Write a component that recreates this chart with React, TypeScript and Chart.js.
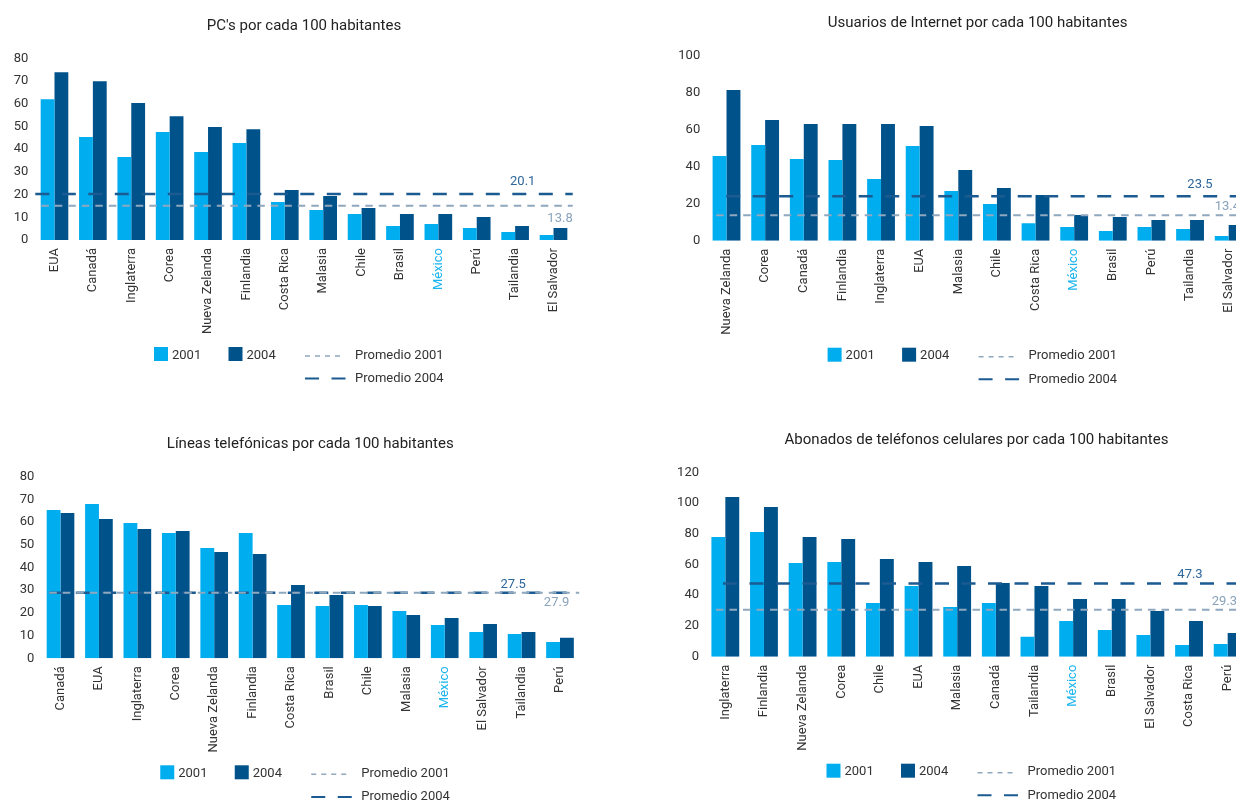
import React, { useEffect, useRef } from "react";
import { Chart, registerables } from "chart.js";

Chart.register(...registerables);

// ---------------- Data ----------------
const legendLabels = ["2001", "2004", "Promedio 2001", "Promedio 2004"];

const pcTitle = "PC's por cada 100 habitantes";
const pcCategories = ["EUA", "Canadá", "Inglaterra", "Corea", "Nueva Zelanda", "Finlandia", "Costa Rica", "Malasia", "Chile", "Brasil", "México", "Perú", "Tailandia", "El Salvador"];
const pc2001 = [62.0, 45.3, 36.5, 47.5, 38.7, 42.7, 16.7, 13.2, 11.4, 6.2, 7.0, 5.3, 3.5, 2.2];
const pc2004 = [73.9, 69.9, 60.3, 54.5, 49.7, 48.8, 22.0, 19.4, 14.1, 11.4, 11.4, 10.1, 6.2, 5.3];
const pcAverages = [15.1, 20.2]; // [2001, 2004] as drawn
const pcAverageLabels = ["13.8", "20.1"];
const pcTicks = [0, 10, 20, 30, 40, 50, 60, 70, 80];

const netTitle = "Usuarios de Internet por cada 100 habitantes";
const netCategories = ["Nueva Zelanda", "Corea", "Canadá", "Finlandia", "Inglaterra", "EUA", "Malasia", "Chile", "Costa Rica", "México", "Brasil", "Perú", "Tailandia", "El Salvador"];
const net2001 = [45.8, 51.7, 44.1, 43.6, 33.3, 51.2, 26.8, 19.8, 9.5, 7.4, 5.2, 7.4, 6.3, 2.5];
const net2004 = [81.4, 65.2, 63.1, 63.1, 63.1, 62.0, 38.2, 28.5, 24.7, 13.9, 12.8, 11.2, 11.2, 8.5];
const netAverages = [13.7, 24.0];
const netAverageLabels = ["13.4", "23.5"];
const netTicks = [0, 20, 40, 60, 80, 100];

const telTitle = "Líneas telefónicas por cada 100 habitantes";
const telCategories = ["Canadá", "EUA", "Inglaterra", "Corea", "Nueva Zelanda", "Finlandia", "Costa Rica", "Brasil", "Chile", "Malasia", "México", "El Salvador", "Tailandia", "Perú"];
const tel2001 = [65.3, 68.0, 59.6, 55.2, 48.6, 55.2, 23.5, 23.0, 23.5, 20.8, 14.7, 11.6, 10.7, 7.2];
const tel2004 = [64.0, 61.4, 57.0, 56.1, 46.8, 45.9, 32.3, 27.9, 23.0, 19.1, 17.8, 15.1, 11.6, 9.0];
const telAverages = [28.9, 28.9];
const telAverageLabels = ["27.9", "27.5"];
const telTicks = [0, 10, 20, 30, 40, 50, 60, 70, 80];

const celTitle = "Abonados de teléfonos celulares por cada 100 habitantes";
const celCategories = ["Inglaterra", "Finlandia", "Nueva Zelanda", "Corea", "Chile", "EUA", "Malasia", "Canadá", "Tailandia", "México", "Brasil", "El Salvador", "Costa Rica", "Perú"];
const cel2001 = [77.9, 81.2, 61.0, 61.6, 34.9, 46.0, 32.3, 34.9, 13.0, 23.2, 17.4, 14.1, 7.6, 8.2];
const cel2004 = [103.9, 97.4, 77.9, 76.6, 63.6, 61.6, 59.0, 48.0, 46.0, 37.5, 37.5, 29.7, 23.2, 15.4];
const celAverages = [30.6, 47.7];
const celAverageLabels = ["29.3", "47.3"];
const celTicks = [0, 20, 40, 60, 80, 100, 120];

// ---------------- Styles ----------------
const FONT = "Roboto, 'DejaVu Sans', sans-serif";
const C2001 = "#00adef";
const C2004 = "#00528b";
const CAVG01 = "#8fa8be";
const CAVG04 = "#1b5b91";
const LAB01 = "#8aa3bb";
const LAB04 = "#2d679c";
const TEXT = "#333333";
const TITLE = "#222222";
const MEXICO = "#1ab4ee";
const XH = 120;

type Panel = {
  title: string;
  categories: string[];
  v2001: number[];
  v2004: number[];
  avg: number[];
  avgLabels: string[];
  ticks: number[];
  box: { x: number; y: number; w: number; h: number };
  area: { l: number; t: number; r: number; b: number };
  lineStart: number[];
  lab04: { dx: number; dy: number };
  lab01: { dx: number; dy: number };
};

const panels: Panel[] = [
  {
    title: pcTitle, categories: pcCategories, v2001: pc2001, v2004: pc2004,
    avg: pcAverages, avgLabels: pcAverageLabels, ticks: pcTicks,
    box: { x: 0, y: 0, w: 618, h: 400 },
    area: { l: 35.3, t: 58.3, r: 572.7, b: 240 },
    lineStart: [6, 0], lab04: { dx: -50, dy: -12.5 }, lab01: { dx: 0, dy: 13 },
  },
  {
    title: netTitle, categories: netCategories, v2001: net2001, v2004: net2004,
    avg: netAverages, avgLabels: netAverageLabels, ticks: netTicks,
    box: { x: 618, y: 0, w: 640, h: 400 },
    area: { l: 89.2, t: 55.7, r: 630, b: 240.7 },
    lineStart: [9, 19], lab04: { dx: -48, dy: -12 }, lab01: { dx: -8, dy: -9 },
  },
  {
    title: telTitle, categories: telCategories, v2001: tel2001, v2004: tel2004,
    avg: telAverages, avgLabels: telAverageLabels, ticks: telTicks,
    box: { x: 0, y: 400, w: 618, h: 401 },
    area: { l: 41.3, t: 76.7, r: 579.2, b: 258.3 },
    lineStart: [8, 8], lab04: { dx: -66, dy: -7.5 }, lab01: { dx: -10, dy: 10.5 },
  },
  {
    title: celTitle, categories: celCategories, v2001: cel2001, v2004: cel2004,
    avg: celAverages, avgLabels: celAverageLabels, ticks: celTicks,
    box: { x: 618, y: 400, w: 640, h: 401 },
    area: { l: 88, t: 72.3, r: 629, b: 256.7 },
    lineStart: [10, 17], lab04: { dx: -57, dy: -9 }, lab01: { dx: -10, dy: -8 },
  },
];

function ChartPanel({ p }: { p: Panel }) {
  const ref = useRef<HTMLCanvasElement>(null);

  useEffect(() => {
    const canvas = ref.current!;
    const overlay = {
      id: "overlay",
      afterDatasetsDraw(chart: any) {
        const { ctx, chartArea: a } = chart;
        const ys = chart.scales.y;
        const y01 = ys.getPixelForValue(p.avg[0]);
        const y04 = ys.getPixelForValue(p.avg[1]);
        ctx.save();
        ctx.lineCap = "butt";
        ctx.setLineDash([14, 12.5]);
        ctx.lineWidth = 2.5;
        ctx.strokeStyle = CAVG04;
        ctx.beginPath();
        ctx.moveTo(a.left + p.lineStart[1], y04);
        ctx.lineTo(a.right, y04);
        ctx.stroke();

        ctx.setLineDash([7.5, 6]);
        ctx.lineWidth = 2;
        ctx.strokeStyle = CAVG01;
        ctx.beginPath();
        ctx.moveTo(a.left + p.lineStart[0], y01);
        ctx.lineTo(a.right, y01);
        ctx.stroke();

        ctx.setLineDash([]);
        ctx.font = `13px ${FONT}`;
        ctx.textBaseline = "middle";
        ctx.fillStyle = LAB04;
        ctx.textAlign = "center";
        ctx.fillText(p.avgLabels[1], a.right + p.lab04.dx, y04 + p.lab04.dy);
        ctx.fillStyle = LAB01;
        ctx.textAlign = "right";
        ctx.fillText(p.avgLabels[0], a.right + p.lab01.dx, y01 + p.lab01.dy);
        ctx.restore();
      },
      afterDraw(chart: any) {
        const { ctx, chartArea: a } = chart;
        const cx = (a.left + a.right) / 2;
        ctx.save();
        ctx.fillStyle = TITLE;
        ctx.font = `15px ${FONT}`;
        ctx.textAlign = "center";
        ctx.textBaseline = "middle";
        ctx.fillText(p.title, cx, a.top - 32);

        const x0 = cx - 150;
        const r1 = a.bottom + 114;
        const r2 = r1 + 24.6;
        ctx.font = `13px ${FONT}`;
        ctx.textAlign = "left";
        ctx.fillStyle = C2001;
        ctx.fillRect(x0, r1 - 7, 14, 14);
        ctx.fillStyle = TEXT;
        ctx.fillText(legendLabels[0], x0 + 18, r1 + 1.5);
        ctx.fillStyle = C2004;
        ctx.fillRect(x0 + 74.5, r1 - 7, 14, 14);
        ctx.fillStyle = TEXT;
        ctx.fillText(legendLabels[1], x0 + 92.5, r1 + 1.5);

        ctx.strokeStyle = CAVG01;
        ctx.lineWidth = 1.5;
        ctx.setLineDash([5, 5]);
        ctx.beginPath();
        ctx.moveTo(x0 + 151, r1 + 2);
        ctx.lineTo(x0 + 188, r1 + 2);
        ctx.stroke();
        ctx.fillText(legendLabels[2], x0 + 201, r1 + 1.5);

        ctx.strokeStyle = CAVG04;
        ctx.lineWidth = 2;
        ctx.setLineDash([14, 12.5]);
        ctx.beginPath();
        ctx.moveTo(x0 + 151, r2);
        ctx.lineTo(x0 + 191.5, r2);
        ctx.stroke();
        ctx.setLineDash([]);
        ctx.fillText(legendLabels[3], x0 + 201, r2);
        ctx.restore();
      },
    };

    const chart = new Chart(canvas, {
      type: "bar",
      data: {
        labels: p.categories,
        datasets: [
          { label: legendLabels[0], data: p.v2001, backgroundColor: C2001, categoryPercentage: 0.72, barPercentage: 1 },
          { label: legendLabels[1], data: p.v2004, backgroundColor: C2004, categoryPercentage: 0.72, barPercentage: 1 },
        ],
      },
      options: {
        responsive: false,
        animation: false,
        devicePixelRatio: 1,
        layout: {
          padding: { left: 0, top: p.area.t, right: p.box.w - p.area.r, bottom: p.box.h - p.area.b - XH },
        },
        plugins: {
          legend: { display: false },
          title: { display: false },
          tooltip: { enabled: false },
        },
        scales: {
          x: {
            grid: { display: false, drawTicks: false },
            border: { display: false },
            ticks: {
              autoSkip: false,
              minRotation: 90,
              maxRotation: 90,
              padding: 8,
              color: (c: any) => (p.categories[c.index] === "México" ? MEXICO : TEXT),
              font: { family: FONT, size: 13 },
            },
            afterFit: (s: any) => { s.height = XH; },
          },
          y: {
            min: p.ticks[0],
            max: p.ticks[p.ticks.length - 1],
            grid: { display: false, drawTicks: false },
            border: { display: false },
            ticks: {
              stepSize: p.ticks[1] - p.ticks[0],
              padding: 7,
              color: TEXT,
              font: { family: FONT, size: 13 },
            },
            afterFit: (s: any) => { s.width = p.area.l; },
          },
        },
      },
      plugins: [overlay],
    } as any);
    return () => chart.destroy();
  }, [p]);

  return (
    <canvas
      ref={ref}
      width={p.box.w}
      height={p.box.h}
      style={{ position: "absolute", left: p.box.x, top: p.box.y, width: p.box.w, height: p.box.h }}
    />
  );
}

export default function App() {
  return (
    <div style={{ position: "absolute", left: 0, top: 0, width: 1236, height: 801, overflow: "hidden", background: "#ffffff" }}>
      {panels.map((p, i) => (
        <ChartPanel key={i} p={p} />
      ))}
    </div>
  );
}
